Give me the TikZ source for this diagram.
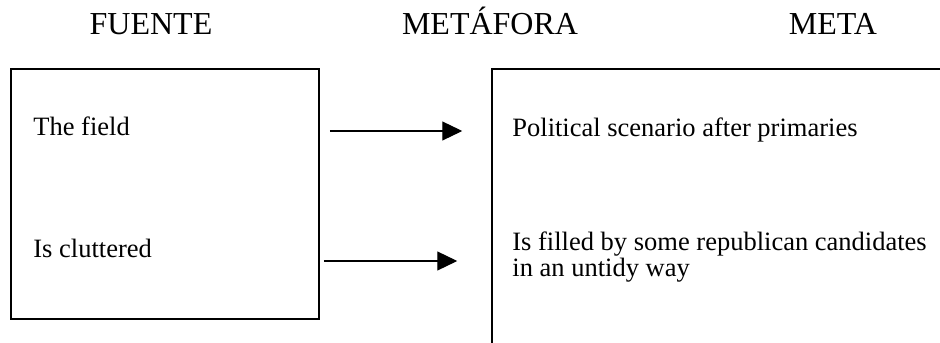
\documentclass[tikz,border=0pt]{standalone}
\usepackage{fontspec}
\setmainfont{Liberation Serif}
\usepackage{tikz}
\usetikzlibrary{arrows.meta,positioning}
\tikzset{
  heading/.style={anchor=base, inner sep=0pt, font=\fontsize{16}{18}\selectfont},
  domainbox/.style={draw, line width=0.75pt, inner sep=0pt},
  entry/.style={anchor=base west, inner sep=0pt, align=left, font=\fontsize{13.25}{11.5}\selectfont},
  maparrow/.style={-{Triangle[length=10pt,width=9.5pt]}, line width=0.6pt},
}

\begin{document}
\begin{tikzpicture}[x=0.5pt,y=0.5pt]
  \clip (0,0) rectangle (940,342);
  \node[heading] (src) at (151,307) {FUENTE};
  \node[heading] (met) at (490,307) {METÁFORA};
  \node[heading] (tgt) at (833,307) {META};
  % source and target domains (the target one runs off the page)
  \node[domainbox, minimum width=154pt, minimum height=125pt] (fuente) at (165,148) {};
  \node[domainbox, minimum width=254pt, minimum height=156.5pt] (meta) at (746,116.5) {};
  \node[entry] (field) at (33,206) {The field};
  \node[entry] (clutter) at (33,84) {Is cluttered};
  \node[entry] (scene) at (512,205) {Political scenario after primaries};
  \node[entry] (filled) at (512,65) {Is filled by some republican candidates\\in an untidy way};
  \draw[maparrow] ([xshift=5pt]fuente.east|-0,211) -- ([xshift=-14.5pt]meta.west|-0,211);
  \draw[maparrow] ([xshift=2pt]fuente.east|-0,81) -- ([xshift=-17pt]meta.west|-0,81);
\end{tikzpicture}
\end{document}
